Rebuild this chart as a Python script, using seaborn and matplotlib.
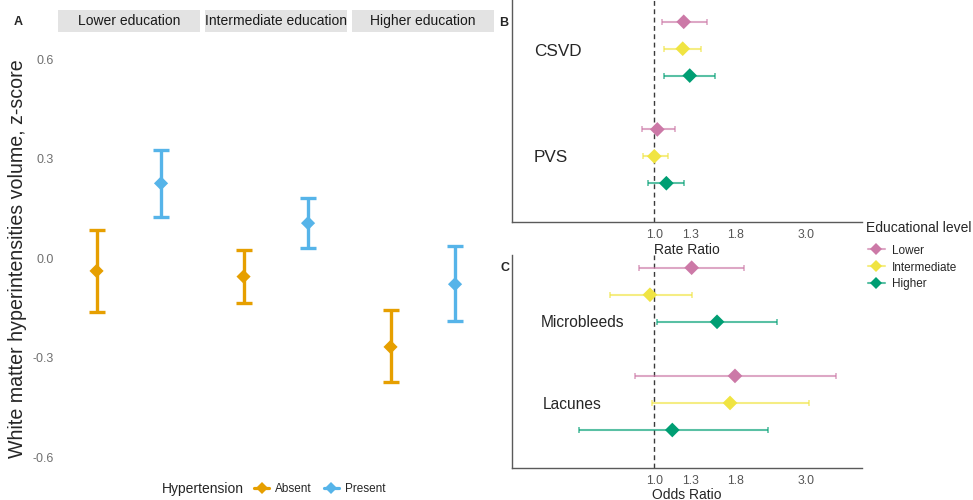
import numpy as np
import pandas as pd
import matplotlib
matplotlib.use("Agg")
import matplotlib.pyplot as plt
import matplotlib.colors as mcolors
from matplotlib.lines import Line2D
from matplotlib.ticker import NullLocator
import seaborn as sns

# ---------------- Data ----------------
# Panel A: WMH volume z-score by education and hypertension
educ_facets = ["Lower education", "Intermediate education", "Higher education"]
hyp_levels = ["Absent", "Present"]
absent_est = [-0.038, -0.055, -0.267]
absent_lo = [-0.161, -0.136, -0.372]
absent_hi = [0.085, 0.025, -0.156]
present_est = [0.226, 0.106, -0.078]
present_lo = [0.124, 0.031, -0.188]
present_hi = [0.327, 0.181, 0.037]
a_yticks = [-0.6, -0.3, 0.0, 0.3, 0.6]
a_yticklabels = ["-0.6", "-0.3", "0.0", "0.3", "0.6"]

# Panels B / C: ratios by educational level
edu_groups = ["Lower", "Intermediate", "Higher"]
rr_outcomes = ["CSVD", "PVS"]
csvd_rr = [1.237, 1.228, 1.292]
csvd_lo = [1.060, 1.073, 1.073]
csvd_hi = [1.464, 1.402, 1.555]
pvs_rr = [1.022, 1.000, 1.091]
pvs_lo = [0.913, 0.920, 0.958]
pvs_hi = [1.164, 1.107, 1.242]

or_outcomes = ["Microbleeds", "Lacunes"]
mb_or = [1.310, 0.969, 1.574]
mb_lo = [0.897, 0.727, 1.020]
mb_hi = [1.909, 1.313, 2.423]
lac_or = [1.792, 1.729, 1.139]
lac_lo = [0.870, 0.981, 0.581]
lac_hi = [3.710, 3.067, 2.276]

ratio_ticks = [1.0, 1.3, 1.8, 3.0]
ratio_ticklabels = ["1.0", "1.3", "1.8", "3.0"]

# ---------------- Style ----------------
sns.set_style("white")
plt.rcParams["font.family"] = ["Liberation Sans", "DejaVu Sans"]

hyp_pal = {"Absent": "#E69F00", "Present": "#56B4E9"}
edu_pal = {"Lower": "#CC79A7", "Intermediate": "#F0E442", "Higher": "#009E73"}

W, H = 973, 500
fig = plt.figure(figsize=(W / 100, H / 100), dpi=100)


def box(x0, y0, x1, y1):
    return [x0 / W, 1 - y1 / H, (x1 - x0) / W, (y1 - y0) / H]


# ---------------- Panel A ----------------
dfA = pd.DataFrame({
    "facet": educ_facets * 2,
    "hyp": ["Absent"] * 3 + ["Present"] * 3,
    "est": absent_est + present_est,
    "lo": absent_lo + present_lo,
    "hi": absent_hi + present_hi,
})
dfA["xpos"] = dfA["hyp"].map({h: i for i, h in enumerate(hyp_levels)})

facet_x0 = [58.3, 205.3, 352.3]
fw = 141.7
for k, fac in enumerate(educ_facets):
    x0 = facet_x0[k]
    ax = fig.add_axes(box(x0, 31.7, x0 + fw, 477))
    sub = dfA[dfA["facet"] == fac]
    for _, r in sub.iterrows():
        ax.errorbar(r["xpos"], r["est"], yerr=[[r["est"] - r["lo"]], [r["hi"] - r["est"]]],
                    fmt="none", ecolor=hyp_pal[r["hyp"]], elinewidth=2.4,
                    capsize=5.6, capthick=2.4, zorder=2)
    sns.scatterplot(data=sub, x="xpos", y="est", hue="hyp", palette=hyp_pal,
                    marker="D", s=52, linewidth=0, legend=False, ax=ax, zorder=3)
    ax.set_xlim(-0.593, 1.604)
    ax.set_ylim(-0.659, 0.683)
    ax.set_xticks([])
    ax.set_xlabel("")
    ax.set_ylabel("")
    for s in ax.spines.values():
        s.set_visible(False)
    if k == 0:
        ax.set_yticks(a_yticks)
        ax.set_yticklabels(a_yticklabels)
        ax.tick_params(axis="y", length=0, pad=3, labelsize=9, labelcolor="#707070")
    else:
        ax.set_yticks([])
    # strip
    sax = fig.add_axes(box(x0, 10, x0 + fw, 31.7))
    sax.set_facecolor("#E3E3E3")
    sax.set_xticks([]); sax.set_yticks([])
    for s in sax.spines.values():
        s.set_visible(False)
    sax.text(0.5, 0.5, fac, ha="center", va="center", fontsize=10, color="#1A1A1A",
             transform=sax.transAxes)

fig.text(18 / W, 1 - 258.5 / H, "White matter hyperintensities volume, z-score",
         rotation=90, ha="center", va="center", fontsize=14.1)
fig.text(18 / W, 1 - 22 / H, "A", ha="center", va="center", fontsize=9, fontweight="bold")

# Legend for panel A
fig.text(162 / W, 1 - 489 / H, "Hypertension", ha="left", va="center", fontsize=10)
hyp_handles = [Line2D([0], [0], color=hyp_pal[h], lw=2.3, marker="D", markersize=6.5,
                      markeredgewidth=0) for h in hyp_levels]
fig.legend(hyp_handles, hyp_levels, loc="center left", bbox_to_anchor=(254 / W, 1 - 489 / H),
           ncol=2, frameon=False, fontsize=8.5, handlelength=1.3, handletextpad=0.5,
           columnspacing=1.0, borderaxespad=0, borderpad=0)


# ---------------- Panels B / C ----------------
def forest(ax, outcomes, ests, los, his, xlabel, labels_xy, label_size, ylim, labelpad):
    rows = []
    n = len(outcomes)
    for i, out in enumerate(outcomes):
        for j, g in enumerate(edu_groups):
            rows.append({"outcome": out, "group": g, "est": ests[i][j], "lo": los[i][j],
                         "hi": his[i][j], "ypos": (n - 1 - i) * 4 + (len(edu_groups) - 1 - j)})
    df = pd.DataFrame(rows)
    ax.axvline(1.0, color="#3A3A3A", lw=1.0, dashes=(3.5, 2.5), zorder=1)
    for _, r in df.iterrows():
        ax.errorbar(r["est"], r["ypos"], xerr=[[r["est"] - r["lo"]], [r["hi"] - r["est"]]],
                    fmt="none", ecolor=edu_pal[r["group"]], alpha=0.65, elinewidth=1.5,
                    capsize=2.0, capthick=1.2, zorder=2)
    sns.scatterplot(data=df, x="est", y="ypos", hue="group", palette=edu_pal,
                    marker="D", s=56, linewidth=0, legend=False, ax=ax, zorder=3)
    ax.set_xscale("log")
    ax.set_xlim(0.3566, 4.48)
    ax.set_ylim(*ylim)
    ax.set_xticks(ratio_ticks)
    ax.set_xticklabels(ratio_ticklabels)
    ax.xaxis.set_minor_locator(NullLocator())
    ax.set_yticks([])
    ax.set_ylabel("")
    ax.set_xlabel(xlabel, fontsize=10, labelpad=labelpad)
    ax.tick_params(axis="x", length=3, width=0.8, color="#555555", pad=2,
                   labelsize=8.7, labelcolor="#555555")
    for s in ["top", "right"]:
        ax.spines[s].set_visible(False)
    for s in ["left", "bottom"]:
        ax.spines[s].set_color("#5A5A5A")
        ax.spines[s].set_linewidth(1.0)
    for out, (tx, ty) in zip(outcomes, labels_xy):
        ax.text(tx, ty, out, ha="left", va="center", fontsize=label_size)


axB = fig.add_axes(box(511.7, 0, 861.7, 221.7))
forest(axB, rr_outcomes, [csvd_rr, pvs_rr], [csvd_lo, pvs_lo], [csvd_hi, pvs_hi],
       "Rate Ratio", [(0.419, 4.9), (0.417, 0.95)], 12.3, (-1.43, 6.81), 2)
axC = fig.add_axes(box(511.7, 255, 861.7, 468.3))
forest(axC, or_outcomes, [mb_or, lac_or], [mb_lo, lac_lo], [mb_hi, lac_hi],
       "Odds Ratio", [(0.441, 3.97), (0.445, 0.96)], 11.2, (-1.416, 6.47), 0.5)

fig.text(504 / W, 1 - 23 / H, "B", ha="center", va="center", fontsize=9, fontweight="bold")
fig.text(505 / W, 1 - 268 / H, "C", ha="center", va="center", fontsize=9, fontweight="bold")

fig.text(866 / W, 1 - 228 / H, "Educational level", ha="left", va="center", fontsize=10)
edu_handles = [Line2D([0], [0], color=mcolors.to_rgba(edu_pal[g], 0.65), lw=1.5, marker="D",
                      markersize=6.5, markerfacecolor=edu_pal[g], markeredgewidth=0)
               for g in edu_groups]
fig.legend(edu_handles, edu_groups, loc="center left",
           bbox_to_anchor=(868 / W, 1 - 267.5 / H), frameon=False, fontsize=8.5,
           handlelength=1.4, handletextpad=0.6,
           labelspacing=0.42, borderaxespad=0, borderpad=0)

fig.savefig("out.png", dpi=100)
